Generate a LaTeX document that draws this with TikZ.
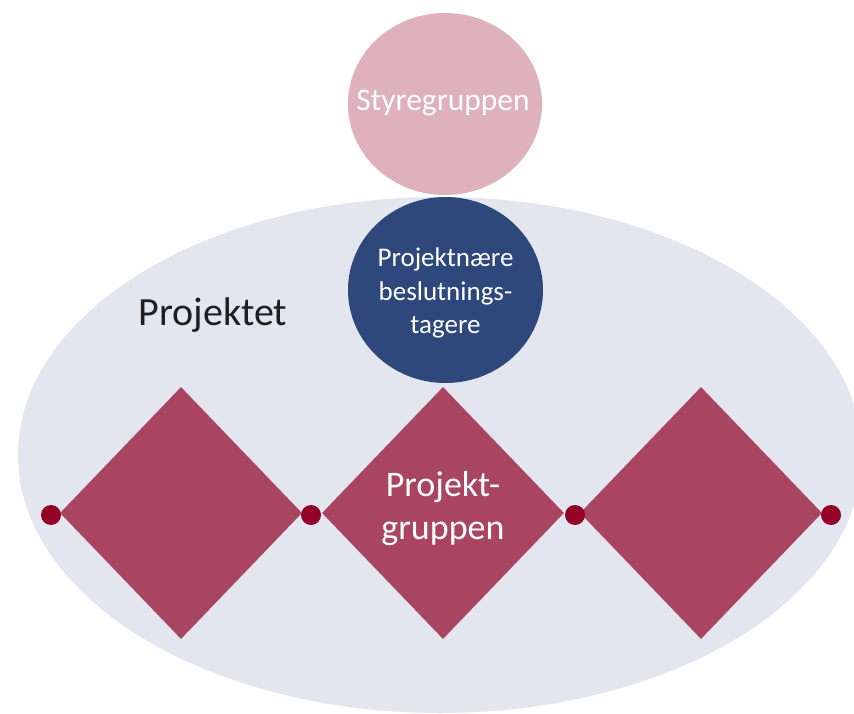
\documentclass[tikz,border=0pt]{standalone}
\usepackage{fontspec}
\setmainfont{Carlito}
\usetikzlibrary{shapes.geometric}
\definecolor{ellgrey}{HTML}{E3E6EE}
\definecolor{pinkc}{HTML}{DFB1BC}
\definecolor{bluec}{HTML}{2E487C}
\definecolor{diamc}{HTML}{AA4561}
\definecolor{dotc}{HTML}{930028}
\tikzset{
  bigell/.style={ellipse, fill=ellgrey, draw=none, inner sep=0pt, minimum width=844pt, minimum height=516pt},
  roundbox/.style={ellipse, draw=none, inner sep=0pt},
  diabox/.style={diamond, fill=diamc, draw=none, inner sep=0pt, minimum width=242pt, minimum height=252pt},
  whitetext/.style={text=white, align=center, inner sep=0pt},
  joint/.style={circle, fill=dotc, draw=none, inner sep=0pt, minimum size=20pt},
}
\begin{document}
\begin{tikzpicture}[x=1pt, y=-1pt]
\useasboundingbox (0,0) rectangle (854,714);
\clip (0,0) rectangle (854,714);
\fill[white] (0,0) rectangle (854,714);
\node[bigell] (proj) at (440,455) {};
\node[roundbox, fill=pinkc, minimum width=194pt, minimum height=182pt] (styre) at (445,104) {};
\node[whitetext, font=\fontsize{31.5}{38}\selectfont] (styreT) at (443,103) {Styregruppen};
\node[roundbox, fill=bluec, minimum width=195pt, minimum height=186pt] (naere) at (445.5,290) {};
\node[whitetext, font=\fontsize{27}{33.5}\selectfont] (naereT) at (445.5,293) {Projektnære\\beslutnings-\\tagere};
\node[anchor=base, text=black!88, font=\fontsize{40}{48}\selectfont] (projlabel) at (213,325) {Projektet};
\node[diabox] (d1) at (181,513) {};
\node[diabox] (d2) at (443,513) {};
\node[whitetext, font=\fontsize{36}{43}\selectfont] (d2T) at (443,509) {Projekt-\\gruppen};
\node[diabox] (d3) at (701,513) {};
\node[joint] (j1) at (51,515) {};
\node[joint] (j2) at (311,515) {};
\node[joint] (j3) at (575,515) {};
\node[joint] (j4) at (831,515) {};
\end{tikzpicture}
\end{document}
